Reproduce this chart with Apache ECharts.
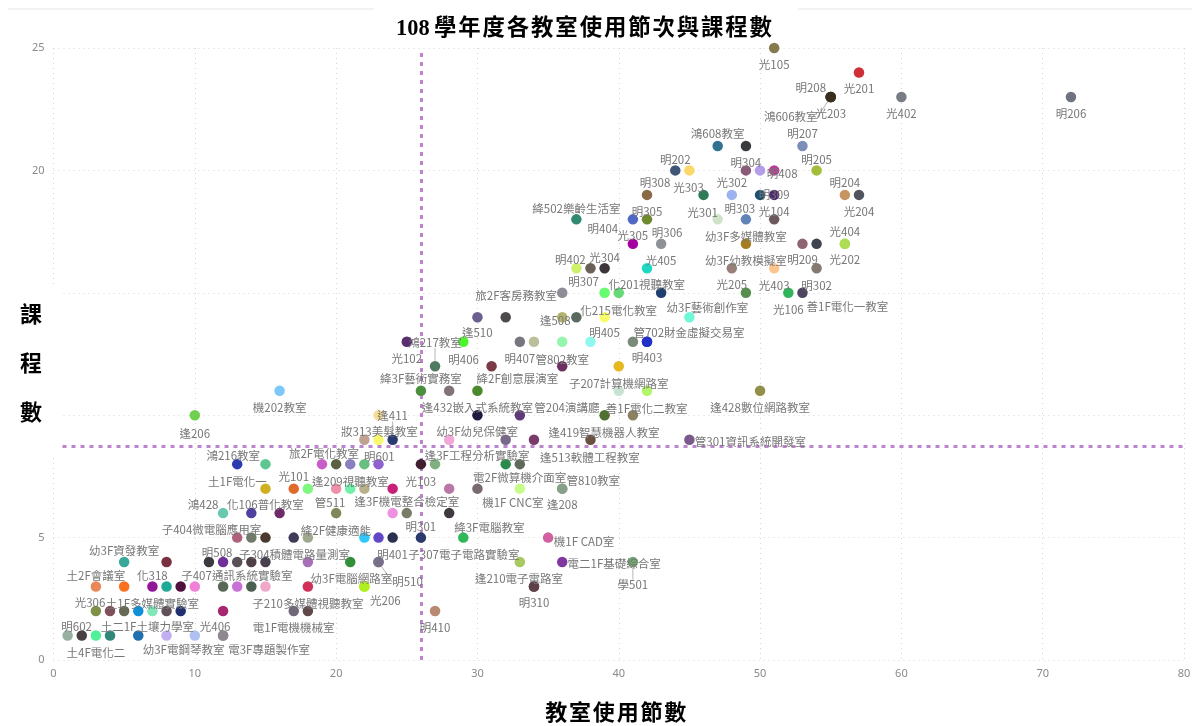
<!DOCTYPE html>
<html><head><meta charset="utf-8">
<script src="https://cdn.jsdelivr.net/npm/echarts@6/dist/echarts.min.js"></script>
<style>html,body{margin:0;padding:0;background:#fff}#c{width:1192px;height:726px}</style>
</head><body><div id="c"></div>
<script>
const chartTitle = '108\u2009學\u200a年\u200a度\u200a各\u200a教\u200a室\u200a使\u200a用\u200a節\u200a次\u200a與\u200a課\u200a程\u200a數';
const xAxisTitle = '教\u200a室\u200a使\u200a用\u200a節\u200a數';
const yAxisTitle = '課\n\n程\n\n數';
const yTickLabels = {0:'0',5:'5',20:'20',25:'25'};
const meanSessions = 26;
const meanCourses = 8.73;

const roomNames = [
 "光105",
 "光201",
 "明208","光203","鴻606教室","光402","明206",
 "鴻608教室","","明207",
 "明202","","明304","","明408","明205",
 "明308","光303","光302","","明309","明204","光204",
 "絳502樂齡生活室","明404","明305","光301","明303","光104",
 "光305","明306","幼3F多媒體教室","明209","","光404","光202",
 "明402","","光304","光405","幼3F幼教模擬室","光403","明302",
 "旅2F客房務教室","明307","化201視聽教室","","光205","光106","善1F電化一教室",
 "","","逢508","","化215電化教室","幼3F藝術創作室",
 "光102","逢510","明407","","","明405","","管702財金虛擬交易室","明403",
 "鴻217教室","明406","管802教室","子207計算機網路室",
 "機202教室","絳3F藝術實務室","","絳2F創意展演室","","","逢428數位網路教室",
 "逢206","","逢432嵌入式系統教室","管204演講廳","善1F電化二教室","",
 "妝313美髮教室","","逢411","幼3F幼兒保健室","","逢419智慧機器人教室","","管301資訊系統開發室",
 "鴻216教室","","旅2F電化教室","","","明601","","光103","逢3F工程分析實驗室","電2F微算機介面室","逢513軟體工程教室",
 "土1F電化一","光101","","","","逢209視聽教室","","","","機1F CNC室","管810教室","逢208",
 "鴻428","化106普化教室","","管511","","逢3F機電整合檢定室","",
 "","","子404微電腦應用室","","絳2F健康適能","","","","明301","絳3F電腦教室","機1F CAD室",
 "幼3F資發教室","","","明508","","","子304積體電路量測室","","","明510","明401","子307電子電路實驗室","電二1F基礎綜合室","學501",
 "土2F會議室","","化318","","","子407通訊系統實驗室","","","","","","幼3F電腦網路室","光206","逢210電子電路室","明310",
 "","光306","","","土1F多媒體實驗室","","","","電1F電機機械室","子210多媒體視聽教室","明410",
 "明602","","土4F電化二","","土二1F土壤力學室","幼3F電鋼琴教室","","光406","電3F專題製作室"
];
const sessionCounts = [
 51,
 57,
 55,55,55,60,72,
 47,49,53,
 44,45,49,50,51,54,
 42,46,48,50,51,56,57,
 37,41,42,47,49,51,
 41,43,49,53,54,56,56,
 37,38,39,42,48,51,54,
 36,39,40,43,49,52,53,
 30,32,36,37,39,45,
 25,29,33,34,36,38,41,42,42,
 27,31,36,40,
 16,26,28,30,40,42,50,
 10,23,30,33,39,41,
 22,23,24,28,32,34,38,45,
 13,15,19,20,21,22,23,26,27,32,33,
 15,17,18,20,21,22,24,28,30,33,36,36,
 12,14,16,20,24,25,28,
 13,14,15,17,18,22,23,24,26,29,35,
 5,8,11,12,13,14,15,18,21,23,23,33,36,41,
 3,5,7,8,9,10,12,13,14,15,18,22,22,34,34,
 3,4,5,6,7,8,9,12,17,18,27,
 1,2,3,4,6,8,10,12,12
];
const courseCounts = [
 25,
 24,
 23,23,23,23,23,
 21,21,21,
 20,20,20,20,20,20,
 19,19,19,19,19,19,19,
 18,18,18,18,18,18,
 17,17,17,17,17,17,17,
 16,16,16,16,16,16,16,
 15,15,15,15,15,15,15,
 14,14,14,14,14,14,
 13,13,13,13,13,13,13,13,13,
 12,12,12,12,
 11,11,11,11,11,11,11,
 10,10,10,10,10,10,
 9,9,9,9,9,9,9,9,
 8,8,8,8,8,8,8,8,8,8,8,
 7,7,7,7,7,7,7,7,7,7,7,7,
 6,6,6,6,6,6,6,
 5,5,5,5,5,5,5,5,5,5,5,
 4,4,4,4,4,4,4,4,4,4,4,4,4,4,
 3,3,3,3,3,3,3,3,3,3,3,3,3,3,3,
 2,2,2,2,2,2,2,2,2,2,2,
 1,1,1,1,1,1,1,1,1
];

// Styling below: one dot colour and one label shift for each room above.
const dotColors = [
 "#857a4b",
 "#cf3038",
 "#3a2f1f","#3a2f1f","#3a2f1f","#787c85","#6f7280",
 "#2f7391","#3a3b3f","#7c8db9",
 "#3f5678","#fcd868","#8a5a7a","#b39de8","#b63e95","#a3bc3a",
 "#8a6a45","#2f7a57","#9db3ef","#1f4f6e","#4f2a6e","#c79562","#50545f",
 "#2f8a70","#5068c4","#6f8a2f","#cfe3c8","#6084b8","#6b5a5c",
 "#a5009f","#8e9196","#a77e1f","#8f6472","#3e4350","#aedc52","#aedc52",
 "#cdf16b","#6a6258","#3c353a","#1fd8c4","#968078","#fdc48e","#837a70",
 "#8e8e96","#66fc70","#66d878","#1f3f6e","#56904f","#2fb55a","#4f4560",
 "#6a5f8e","#4f4a4c","#b3b36e","#5a6a60","#f9fc6b","#6ff8d8",
 "#5a2f6e","#4cf52c","#77767f","#bcc09a","#96f5ae","#90f8ef","#7a8a78","#2030c8","#2030c8",
 "#4f7a62","#7a3a48","#6e2f62","#e5b820",
 "#7cc8f8","#4a8f3e","#827378","#4a8a2c","#c8e3d4","#b3f56a","#928f48",
 "#6fd04f","#f9dc95","#1f1a40","#603a78","#4f7030","#8c8060",
 "#c0a090","#f9f96e","#2a3a70","#f0a8d8","#78688a","#7a3a6a","#6a5040","#7a5a8a",
 "#2a3ab0","#5cc890","#c85cc8","#5a6040","#8a80c0","#68c080","#9060d0","#402030","#80b080","#2a8a4a","#606a5a",
 "#d0b020","#e06a2c","#80f880","#f090a8","#70f0a8","#b8b088","#c82078","#b878a8","#7a6a70","#c8fc88","#88a088","#88a088",
 "#68c8b0","#5040a0","#702a68","#80885a","#f090e0","#7a7c68","#403a40",
 "#b0607a","#707a68","#4a3a30","#403a5a","#a0a890","#30c8f8","#6048c8","#2a3050","#2a3a6a","#30b858","#d060a0",
 "#38a898","#7a3040","#3a3a40","#702f98","#5a5058","#4f4048","#483f50","#a870b8","#2f9038","#787088","#787088","#a8c860","#8038a0","#70a870",
 "#e88858","#f87020","#901898","#20a898","#501040","#f080d8","#5a6858","#c870d8","#4a6050","#f0a8c8","#d03058","#b0f020","#b0f020","#604048","#604048",
 "#7f9048","#80505a","#686a58","#1090d8","#80e8b8","#605058","#203070","#a82870","#706878","#604848","#b88870",
 "#98b0a0","#483f40","#50f098","#308878","#2070b0","#c0b0f0","#b0c0f0","#908890","#908890"
];
const labelShifts = [
 [0,17],
 [0,16],
 [-20,-9],[0,17],[-40,20],[0,17],[0,17],
 [0,-12],[0,0],[0,-12],
 [0,-11],[0,0],[0,-8],[0,0],[8,3],[0,-11],
 [8,-12],[-15,-7],[0,-12],[0,0],[0,0],[0,-12],[0,17],
 [0,-11],[-30,9],[0,-8],[-15,-7],[-6,-11],[0,-8],
 [0,-8],[6,-11],[0,-7],[0,16],[0,0],[0,-12],[0,16],
 [-6,-9],[0,0],[0,-11],[14,-8],[14,-8],[0,17],[0,17],
 [-46,3],[-21,-11],[28,-8],[0,0],[-14,-8],[0,17],[45,14],
 [0,0],[0,0],[-7,3],[0,0],[14,-7],[18,-10],
 [0,17],[14,-9],[0,17],[0,0],[0,0],[14,-9],[0,0],[42,-9],[0,16],
 [0,-24],[-28,-7],[0,-7],[0,17],
 [0,17],[0,-12],[0,0],[40,-12],[0,0],[0,0],[0,17],
 [0,18],[0,0],[0,-8],[47,-8],[42,-7],[0,0],
 [15,-8],[0,0],[0,-24],[28,-8],[0,0],[70,-7],[0,0],[61,2],
 [-4,-9],[0,0],[2,-11],[0,0],[0,0],[15,-8],[0,0],[0,17],[42,-9],[14,13],[70,-7],
 [-28,-7],[0,-12],[0,0],[0,0],[0,0],[-14,-7],[0,0],[0,0],[0,0],[-7,14],[31,-8],[0,16],
 [-20,-8],[14,-8],[0,0],[-6,-10],[0,0],[0,-11],[0,0],
 [0,0],[0,0],[-54,-8],[0,0],[28,-7],[0,0],[0,0],[0,0],[0,-11],[26,-10],[36,4],
 [0,-11],[0,0],[0,0],[-6,-9],[0,0],[0,0],[29,-7],[0,0],[0,0],[29,20],[14,-7],[-56,-7],[52,2],[0,23],
 [0,-11],[0,0],[0,-11],[0,0],[0,0],[42,-11],[0,0],[0,0],[0,0],[0,0],[0,0],[-13,-8],[21,14],[-15,-8],[0,16],
 [0,0],[-20,-8],[0,0],[0,0],[0,-7],[0,0],[0,0],[0,0],[0,17],[0,-7],[0,17],
 [9,-9],[0,0],[0,17],[0,0],[9,-9],[17,14],[0,0],[-8,-9],[46,14]
];
const leaderRooms = ['鴻606教室','明510','鴻217教室','學501','逢411'];

const points = roomNames.map((name, i) => ({
  name,
  value: [sessionCounts[i], courseCounts[i]],
  itemStyle: {color: dotColors[i], opacity: 1},
  label: {show: name !== ''},
  labelLine: {show: leaderRooms.includes(name), lineStyle: {color: '#b5b5b5', width: 1}}
}));

const chart = echarts.init(document.getElementById('c'), null, {renderer: 'canvas'});
const cjk = '"Noto Sans CJK TC","Noto Sans",sans-serif';
const heading = '"Liberation Serif","Noto Sans CJK TC",serif';
const dotted = {show: true, lineStyle: {type: [1, 4], color: '#d6d6d6', width: 1}};
chart.setOption({
  animation: false,
  backgroundColor: '#fff',
  title: {text: chartTitle, left: 391, top: 13,
    textStyle: {fontFamily: heading, fontSize: 22.4, fontWeight: 'bold', color: '#000'}},
  grid: {left: 53.5, right: 8, top: 48, bottom: 66, outerBoundsMode: 'none'},
  xAxis: {type: 'value', min: 0, max: 80, interval: 10,
    name: xAxisTitle, nameLocation: 'middle', nameGap: 43,
    nameTextStyle: {fontFamily: heading, fontSize: 22, fontWeight: 'bold', color: '#000', padding: [0, 6, 0, 0]},
    axisLine: {show: false}, axisTick: {show: false}, splitLine: dotted,
    axisLabel: {color: '#8a8a8a', fontSize: 11, fontFamily: '"Noto Sans",sans-serif', margin: 8}},
  yAxis: {type: 'value', min: 0, max: 25, interval: 5,
    axisLine: {show: false}, axisTick: {show: false}, splitLine: dotted,
    axisLabel: {color: '#8a8a8a', fontSize: 11, fontFamily: '"Noto Sans",sans-serif', margin: 9,
      formatter: v => yTickLabels[v] || ''}},
  graphic: [
    {type: 'rect', left: 8, top: 8, shape: {width: 366, height: 2}, style: {fill: '#f2f2f2'}, silent: true, z: 0},
    {type: 'rect', left: 798, top: 8, shape: {width: 394, height: 2}, style: {fill: '#f2f2f2'}, silent: true, z: 0},
    {type: 'rect', left: 0, top: 285, shape: {width: 61, height: 170}, style: {fill: '#fff'}, silent: true, z: 20},
    {type: 'text', left: 20, top: 304, z: 21, silent: true,
      style: {text: yAxisTitle, fontFamily: heading, fontSize: 22, fontWeight: 'bold', fill: '#000', lineHeight: 24.5, align: 'left'}}
  ],
  series: [{
    type: 'scatter', symbol: 'circle', symbolSize: 10.5, z: 5,
    data: points,
    label: {position: 'inside', formatter: '{b}', color: '#777', fontSize: 11.5, fontFamily: cjk},
    labelLayout: p => {
      const s = labelShifts[p.dataIndex];
      return {dx: s[0], dy: s[1], hideOverlap: false};
    },
    markLine: {
      silent: true, symbol: 'none', label: {show: false}, z: 3,
      lineStyle: {color: '#bb84cc', type: [4, 5], width: 3, opacity: 1},
      data: [{xAxis: meanSessions}, {yAxis: meanCourses}]
    }
  }]
});
</script></body></html>
